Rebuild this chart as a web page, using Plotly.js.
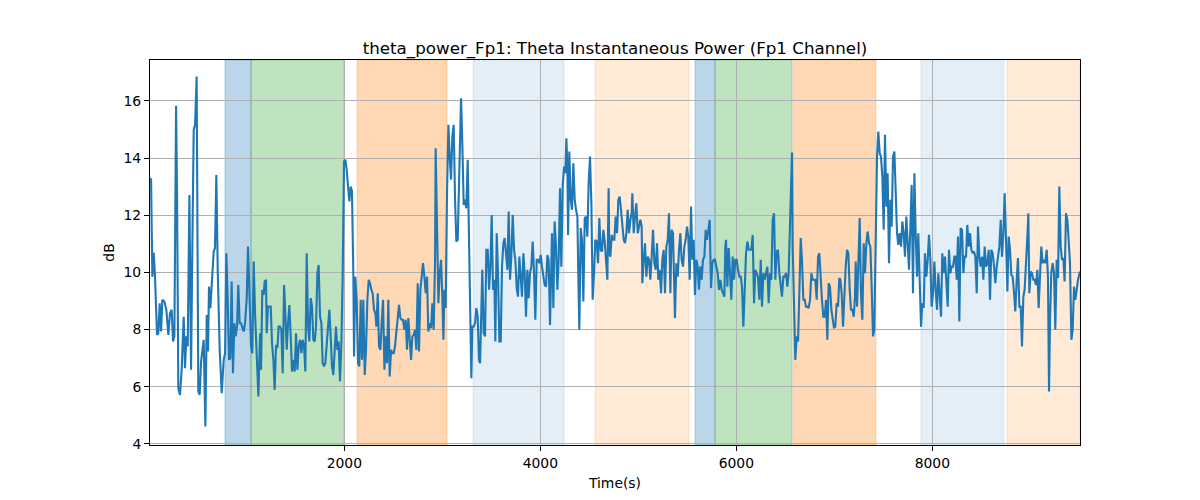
<!DOCTYPE html>
<html>
<head>
<meta charset="utf-8">
<script src="https://cdn.plot.ly/plotly-3.0.1.min.js"></script>
<style>html,body{margin:0;padding:0;background:#fff;}#chart{width:1200px;height:500px;}</style>
</head>
<body>
<div id="chart"></div>
<script>
// Time (s) of each sample
var timeS = [17,28,41,55,68,89,102,116,130,143,164,184,204,221,238,252,266,283,293,306,323,340,361,374,388,402,419,436,449,463,477,493,510,524,538,551,565,582,596,609,619,633,646,667,680,694,708,728,749,769,783,796,810,823,837,850,864,878,891,905,918,932,946,959,973,987,1004,1017,1031,1048,1061,1075,1089,1106,1123,1140,1150,1163,1177,
1187,1201,1208,1221,1235,1249,1262,1276,1289,1303,1317,1330,1344,1357,1371,1385,1398,1412,1426,1439,1453,1466,1480,1494,1507,1521,1534,1548,1562,1575,1589,1602,1616,1630,1643,1657,1670,1684,1698,1711,1725,1738,1752,1766,1779,1793,1806,1820,1834,1847,1861,1874,1888,1902,1915,1929,1942,1956,1970,1983,1997,2010,2024,2038,2051,2065,2078,2092,2099,2112,2126,2140,2153,2167,2180,2194,2208,2221,2235,2249,2262,2276,2289,2303,2317,
2327,2341,2354,2368,2381,2395,2409,2422,2436,2449,2463,2477,2490,2504,2517,2531,2545,2558,2572,2585,2599,2613,2626,2640,2653,2667,2681,2694,2708,2721,2735,2749,2762,2776,2789,2803,2817,2830,2844,2857,2871,2885,2898,2912,2926,2932,2946,2960,2973,2987,3000,3011,3021,3034,3048,3062,3075,3089,3102,3116,3130,3143,3157,3170,3184,3191,3204,3218,3232,3245,3259,3272,3286,3296,3306,3320,3334,3347,3361,3374,3385,3395,3408,3422,3436,3449,3463,3477,3490,3504,3517,3531,
3541,3555,3568,3582,3596,3609,3623,3636,3650,3664,3677,3691,3704,3718,3732,3745,3759,3772,3786,3800,3813,3827,3840,3854,3868,3881,3895,3908,3922,3936,3949,3963,3976,3990,4004,4017,4031,4044,4058,4072,4085,4099,4112,4119,4133,4146,4160,4174,4187,4201,4214,4228,4242,4255,4266,4276,4283,4296,4310,4323,4337,4351,4364,4378,4388,4398,4412,4425,4439,4453,4466,4480,4493,4507,4521,4534,4548,4561,4575,4589,4602,4616,4629,4643,4657,4670,4684,4697,4704,
4715,4728,4742,4755,4769,4783,4796,4810,4823,4837,4851,4864,4878,4891,4905,4919,4932,4939,4953,4966,4980,4994,5007,5021,5034,5041,5055,5068,5082,5096,5109,5123,5136,5150,5164,5177,5191,5204,5218,5232,5245,5259,5272,5286,5300,5313,5327,5340,5354,5368,5374,5388,5402,5415,5429,5442,5456,5470,5483,5497,5510,5524,5538,5551,5565,5578,5592,5606,5619,5633,5646,5660,5674,5687,5701,5715,5728,5742,5755,5769,5783,5796,5810,5823,5837,5851,5864,5878,
5888,5895,5909,5922,5936,5949,5963,5977,5990,6004,6017,6031,6045,6058,6072,6085,6099,6113,6126,6140,6153,6167,6181,6194,6208,6221,6235,6249,6262,6276,6289,6303,6317,6330,6344,6357,6371,6385,6398,6412,6425,6439,6453,6466,6480,6493,6507,6521,6534,6548,6562,6568,6575,6589,6602,6616,6630,6643,6657,6670,6684,6698,6711,6725,6738,6752,6766,6779,6793,6806,6820,6834,6847,6861,6874,6888,6902,6915,6929,6942,6956,6970,6983,6997,7010,7024,7038,7051,
7062,7075,7089,7102,7116,7130,7143,7157,7170,7184,7198,7211,7218,7232,7245,7259,7272,7286,7300,7313,7327,7340,7354,7368,7381,7395,7408,7422,7436,7449,7463,7476,7490,7504,7517,7531,7544,7558,7572,7585,7599,7613,7626,7640,7653,7667,7681,7694,7708,7721,7735,7749,7762,7776,7789,7803,7817,7830,7844,7857,7871,7885,7898,7912,7925,7939,7953,7966,7980,7993,8007,8021,8034,8048,8061,8075,8089,8102,8116,8129,8143,8157,8170,8184,8197,8211,8225,
8235,8249,8262,8276,8289,8303,8317,8330,8344,8357,8371,8385,8398,8412,8425,8439,8453,8466,8480,8493,8507,8521,8534,8548,8562,8575,8589,8602,8616,8630,8643,8657,8670,8684,8698,8711,8725,8738,8752,8766,8779,8793,8806,8820,8834,8847,8861,8874,8888,8902,8915,8929,8942,8956,8970,8980,8990,9004,9017,9031,9044,9058,9072,9085,9099,9112,9126,9140,9153,9167,9180,9191,9201,9214,9228,9242,9255,9269,9283,9296,9310,9323,9337,9350,9364,9378,9391,9405,9419,9432,9446,9459,9473,9487,9507];

// Theta power (dB)
var powerDb = [13.3,13.24,9.85,10.69,9.85,7.81,7.87,8.92,7.93,9.04,8.98,8.69,7.81,8.57,8.69,7.58,7.76,15.83,12.77,5.95,5.71,6.59,8.45,6.65,7.76,7.41,12.71,6.59,10.90,14.99,15.16,16.85,5.83,5.71,6.88,7.29,7.64,4.61,8.51,7.23,9.50,8.75,9.39,10.73,10.85,13.41,10.09,7.29,5.77,6.94,7.17,10.67,9.04,6.94,7.00,9.68,6.47,8.22,7.76,8.11,9.56,8.22,8.22,8.11,7.93,8.22,9.10,10.90,9.62,7.41,7.17,10.38,8.57,6.71,5.66,7.87,6.59,9.39,9.21,
9.68,9.74,7.87,8.80,8.80,8.80,7.52,6.94,5.89,7.46,7.35,8.10,8.10,7.99,6.47,9.56,8.57,7.29,8.22,8.86,7.76,6.53,6.94,6.53,7.87,6.59,7.41,7.64,7.17,7.64,7.41,6.53,10.67,8.10,7.58,9.10,8.80,7.64,7.58,8.10,9.97,10.26,8.45,8.22,6.82,6.71,6.82,7.41,7.99,8.69,7.76,6.71,6.41,7.41,8.10,7.29,7.58,6.18,7.52,9.85,13.88,13.94,13.59,13.00,12.48,13.00,12.83,9.91,7.06,9.85,9.04,6.82,6.71,9.04,6.94,9.04,6.41,7.29,9.04,9.74,9.62,9.39,9.27,8.69,8.57,
8.10,9.27,7.41,7.29,8.22,9.04,6.59,7.76,6.82,9.04,6.36,7.29,7.17,7.17,7.41,7.99,8.45,8.86,8.40,8.34,8.34,7.99,8.34,7.29,8.40,7.76,6.94,7.76,7.81,7.99,7.29,9.62,7.23,9.39,9.74,10.32,9.85,9.27,9.85,7.93,8.22,8.05,8.92,7.99,10.44,14.34,11.60,8.92,9.97,10.44,9.15,7.64,9.39,8.75,12.77,15.16,14.05,13.24,14.75,15.16,12.54,11.08,11.14,13.35,15.45,16.09,14.52,12.36,12.54,12.24,13.94,10.67,7.76,6.30,8.10,8.10,8.22,8.75,8.45,6.94,6.82,8.34,10.09,7.87,7.76,10.79,10.79,9.39,10.20,12.01,9.39,9.74,
7.58,11.37,9.97,7.58,7.58,10.20,11.02,11.20,10.44,10.09,12.13,9.74,10.55,12.01,10.79,10.44,9.45,9.15,10.55,9.85,9.15,10.67,9.97,8.45,10.09,9.10,9.97,10.20,11.08,9.97,8.34,10.44,10.44,10.32,10.61,10.20,9.85,9.56,9.50,10.61,10.44,8.16,10.20,11.37,8.75,11.78,10.90,9.39,10.44,12.94,10.20,13.00,13.70,13.47,14.69,13.70,11.31,14.23,12.54,12.19,13.82,12.54,12.19,11.95,9.85,7.99,11.55,11.14,8.98,11.90,11.95,11.25,13.12,14.05,12.42,9.04,9.97,11.14,11.08,10.32,11.90,10.79,10.73,11.49,11.08,10.32,9.74,12.94,10.67,
10.55,11.31,11.14,11.14,11.95,11.37,12.54,12.65,12.19,11.60,11.14,11.02,11.37,12.19,11.37,11.84,12.07,12.77,11.37,11.95,12.42,11.37,11.60,11.84,11.60,9.62,10.44,11.02,9.85,10.55,10.44,9.74,10.55,11.49,10.32,10.09,11.02,9.74,10.09,9.27,10.44,10.79,9.27,10.90,11.14,12.07,9.27,11.49,11.37,9.85,8.40,10.32,9.85,10.79,11.37,10.44,10.20,10.90,11.14,11.60,11.25,9.74,12.30,10.44,11.14,9.21,10.44,10.20,9.39,10.20,9.74,10.44,10.55,11.49,11.14,11.49,11.84,9.45,10.32,10.44,10.44,10.20,9.97,9.39,9.74,9.39,9.27,9.15,
10.90,11.14,9.50,10.85,9.97,9.04,10.55,9.74,10.44,10.44,10.09,9.85,9.85,9.50,8.10,9.27,10.67,11.08,10.79,10.79,10.79,11.31,8.92,10.09,9.97,9.85,9.04,10.44,8.80,9.97,9.74,9.97,10.20,8.92,9.97,9.74,11.84,12.07,9.74,10.73,10.79,9.97,9.50,9.15,9.85,9.85,9.97,9.50,9.97,11.84,14.17,14.19,10.90,8.80,6.94,7.76,7.58,9.27,11.20,10.44,9.04,9.04,8.80,8.80,8.75,9.04,9.97,9.74,9.74,9.74,9.04,10.55,10.67,9.50,9.04,8.45,8.45,9.04,7.64,9.62,9.50,8.69,8.34,8.05,8.10,8.92,8.80,9.80,
9.74,9.27,8.10,9.50,10.20,10.79,10.67,9.39,8.69,8.69,8.45,9.15,10.38,8.80,10.44,11.90,9.27,8.34,11.02,9.97,11.02,11.43,11.02,10.90,9.50,7.76,7.99,11.37,14.05,14.93,14.17,14.05,13.35,11.49,14.81,12.30,13.47,10.32,12.54,11.60,14.05,14.23,12.54,11.37,10.96,11.37,10.90,11.78,11.37,10.55,11.95,11.08,10.09,11.60,13.06,9.27,13.47,11.37,9.85,11.37,9.27,8.10,8.92,8.75,10.67,9.85,10.44,11.31,10.44,8.80,9.27,10.38,9.39,8.69,9.97,9.04,8.45,10.67,9.97,10.55,9.85,8.80,10.79,9.97,10.20,10.20,10.55,
10.55,9.74,11.25,8.28,11.55,11.49,9.97,10.55,10.55,11.66,10.90,11.37,10.79,10.67,10.73,10.55,9.27,11.60,10.55,10.20,10.55,9.74,10.90,10.20,10.32,10.79,9.04,10.79,10.67,10.20,9.62,10.20,10.55,10.90,11.84,10.55,11.37,12.77,11.14,9.33,11.25,10.79,9.91,9.85,9.27,8.63,9.74,10.50,8.80,8.80,7.41,9.15,9.39,10.20,11.25,12.07,9.27,10.03,9.97,9.74,9.74,9.56,10.09,8.75,9.97,10.90,10.32,10.44,10.32,10.79,9.85,5.83,8.34,9.97,10.32,9.97,7.99,10.44,9.80,13.00,10.90,10.44,10.50,9.68,12.07,11.84,11.14,10.32,7.64,7.99,9.50,9.04,9.39,9.74,10.03];

// Shaded condition intervals (s) and their colour kinds
var spanStart = [782, 1048, 2130, 3313, 4558, 5579, 5783, 6579, 7884, 8762];
var spanEnd   = [1048, 1997, 3048, 4242, 5517, 5783, 6568, 7425, 8731, 9507];
var spanKind  = ['blue', 'green', 'orange', 'lightblue', 'lightorange', 'blue', 'green', 'orange', 'lightblue', 'lightorange'];

var xTicks = [2000, 4000, 6000, 8000];
var yTicks = [4, 6, 8, 10, 12, 14, 16];

var kindFill = {
  blue: 'rgba(31,119,180,0.3)',
  green: 'rgba(44,160,44,0.3)',
  orange: 'rgba(255,127,14,0.3)',
  lightblue: 'rgba(31,119,180,0.12)',
  lightorange: 'rgba(255,127,14,0.16)'
};

var shapes = spanStart.map(function (s, i) {
  return {
    type: 'rect', xref: 'x', yref: 'paper',
    x0: s, x1: spanEnd[i], y0: 0, y1: 1,
    fillcolor: kindFill[spanKind[i]],
    line: {color: kindFill[spanKind[i]], width: 1},
    layer: 'below'
  };
});

var trace = {
  x: timeS, y: powerDb, type: 'scatter', mode: 'lines',
  line: {color: '#1f77b4', width: 2.1},
  hoverinfo: 'x+y'
};

var font = {family: 'DejaVu Sans, sans-serif', size: 13.9, color: '#000'};

var layout = {
  width: 1200, height: 500,
  margin: {l: 150, r: 120, t: 60, b: 55, pad: 0},
  paper_bgcolor: '#fff', plot_bgcolor: 'rgba(0,0,0,0)',
  font: font,
  showlegend: false,
  title: {
    text: 'theta_power_Fp1: Theta Instantaneous Power (Fp1 Channel)',
    font: {family: 'DejaVu Sans, sans-serif', size: 16.7, color: '#000'},
    x: 0.5, xref: 'paper', xanchor: 'center',
    y: 1, yref: 'paper', yanchor: 'bottom', pad: {b: 6}
  },
  xaxis: {
    range: [17, 9507],
    tickvals: xTicks, ticktext: xTicks.map(String),
    ticks: 'outside', ticklen: 5, tickwidth: 1, tickcolor: '#000',
    showline: true, linecolor: '#000', linewidth: 1, mirror: true,
    showgrid: true, gridcolor: '#b0b0b0', gridwidth: 1,
    zeroline: false,
    tickfont: font,
    title: {text: 'Time(s)', font: font, standoff: 8}
  },
  yaxis: {
    range: [3.96, 17.43],
    tickvals: yTicks, ticktext: yTicks.map(String),
    ticks: 'outside', ticklen: 5, tickwidth: 1, tickcolor: '#000',
    showline: true, linecolor: '#000', linewidth: 1, mirror: true,
    showgrid: true, gridcolor: '#b0b0b0', gridwidth: 1,
    zeroline: false,
    tickfont: font,
    title: {text: 'dB', font: font, standoff: 5}
  },
  shapes: shapes
};

Plotly.newPlot('chart', [trace], layout, {displayModeBar: false, staticPlot: true});
</script>
</body>
</html>
